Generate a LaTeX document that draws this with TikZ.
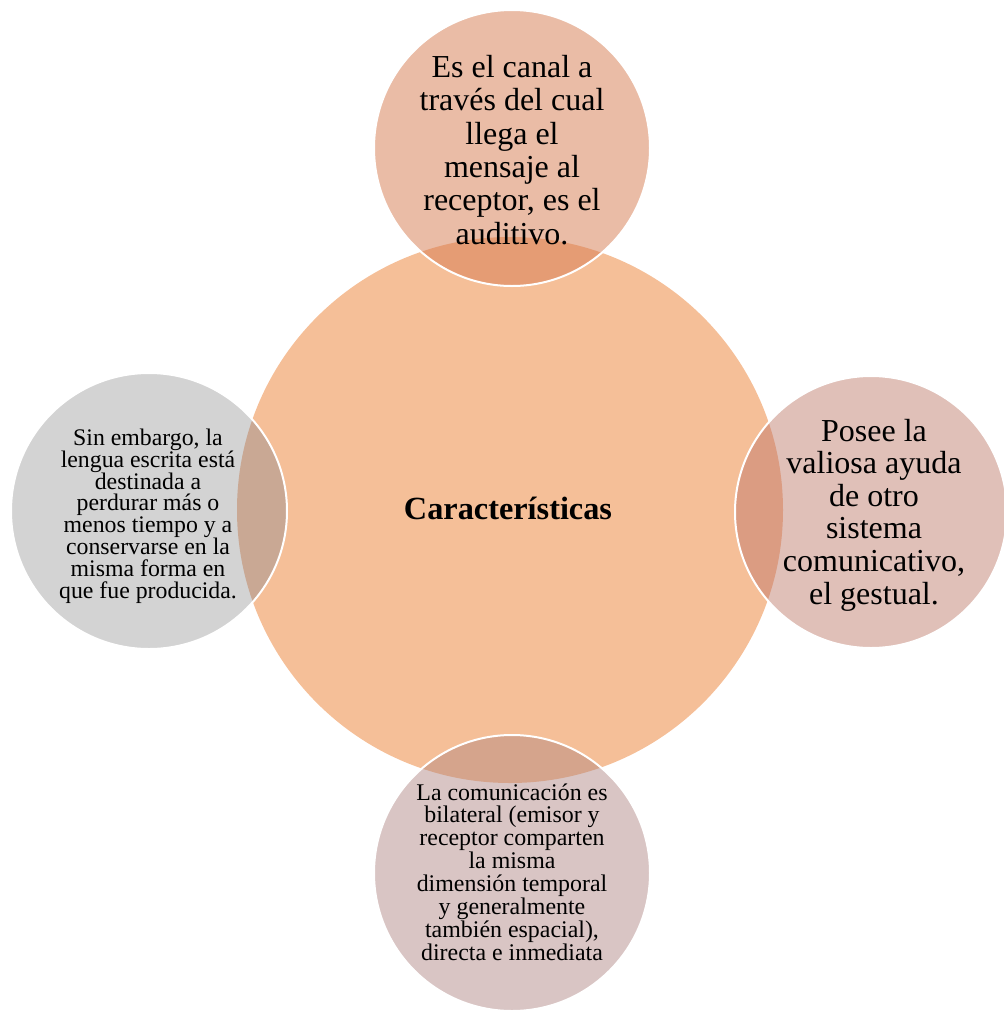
\documentclass[tikz,border=0pt]{standalone}
\usepackage{fontspec}
\setmainfont{Liberation Serif}
\definecolor{cmain}{RGB}{245,191,152}
\definecolor{ctop}{RGB}{234,188,166}
\definecolor{ctopov}{RGB}{229,156,116}
\definecolor{cright}{RGB}{224,192,184}
\definecolor{crightov}{RGB}{219,156,130}
\definecolor{cleft}{RGB}{211,211,211}
\definecolor{cleftov}{RGB}{201,168,148}
\definecolor{cbot}{RGB}{217,197,196}
\definecolor{cbotov}{RGB}{213,164,140}
\tikzset{
  toptxt/.style={align=center, font=\fontsize{32}{33.4}\selectfont, inner sep=0pt},
  righttxt/.style={align=center, font=\fontsize{32}{32.6}\selectfont, inner sep=0pt},
  smalltxt/.style={align=center, font=\fontsize{23.8}{21.8}\selectfont, inner sep=0pt},
  bottxt/.style={align=center, font=\fontsize{23.9}{22.9}\selectfont, inner sep=0pt},
  ring/.style={draw=white, line width=2pt}
}
\begin{document}
\begin{tikzpicture}[x=1pt,y=-1pt]
\useasboundingbox (0,0) rectangle (1004,1010);
% central circle
\fill[cmain] (510,510) circle[radius=273pt];
% top
\fill[ctop] (512,148) circle[radius=138pt];
\begin{scope}
  \clip (512,148) circle[radius=138pt];
  \fill[ctopov] (510,510) circle[radius=273pt];
\end{scope}
\draw[ring] (512,148) circle[radius=138pt];
% right
\fill[cright] (871,512) circle[radius=136pt];
\begin{scope}
  \clip (871,512) circle[radius=136pt];
  \fill[crightov] (510,510) circle[radius=273pt];
\end{scope}
\draw[ring] (871,512) circle[radius=136pt];
% left
\fill[cleft] (149,511) circle[radius=138pt];
\begin{scope}
  \clip (149,511) circle[radius=138pt];
  \fill[cleftov] (510,510) circle[radius=273pt];
\end{scope}
\draw[ring] (149,511) circle[radius=138pt];
% bottom
\fill[cbot] (512,873) circle[radius=138pt];
\begin{scope}
  \clip (512,873) circle[radius=138pt];
  \fill[cbotov] (510,510) circle[radius=273pt];
\end{scope}
\draw[ring] (512,873) circle[radius=138pt];
% texts
\node[inner sep=0pt, font=\fontsize{32.3}{36}\selectfont\bfseries] (cen) at (508,508) {Características};
\node[toptxt] (ttop) at (512,150) {Es el canal a\\través del cual\\llega el\\mensaje al\\receptor, es el\\auditivo.};
\node[righttxt] (tright) at (874,515) {Posee la\\valiosa ayuda\\de otro\\sistema\\comunicativo,\\el gestual.};
\node[smalltxt] (tleft) at (148,516) {Sin embargo, la\\lengua escrita está\\destinada a\\perdurar más o\\menos tiempo y a\\conservarse en la\\misma forma en\\que fue producida.};
\node[bottxt] (tbot) at (512,872) {La comunicación es\\bilateral (emisor y\\receptor comparten\\la misma\\dimensión temporal\\y generalmente\\también espacial),\\directa e inmediata};
\end{tikzpicture}
\end{document}
